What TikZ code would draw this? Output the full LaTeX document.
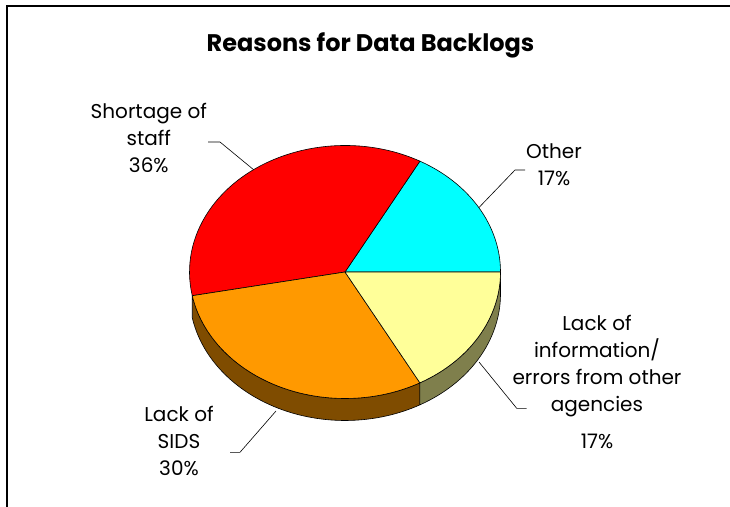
\documentclass[tikz,border=0pt]{standalone}
\usepackage{fontspec}
\setmainfont{Poppins}
\usetikzlibrary{positioning}
\definecolor{CyanB}{HTML}{00FFFF}
\definecolor{RedB}{HTML}{FF0000}
\definecolor{OrangeA}{HTML}{7F4C00}
\definecolor{OrangeB}{HTML}{FF9900}
\definecolor{YellowA}{HTML}{7F7F4C}
\definecolor{YellowB}{HTML}{FFFF99}
\tikzset{
  rad/.style={x radius=155.5, y radius=126.5},
  piece/.style={draw=black, line width=0.6pt, line join=round},
  lbl/.style={align=center, inner sep=0pt, font=\fontsize{20}{27}\selectfont},
  ttl/.style={inner sep=0pt, anchor=base, font=\fontsize{24}{28}\selectfont\bfseries},
  leader/.style={draw=black, line width=0.6pt}
}
\begin{document}
\begin{tikzpicture}[x=1pt, y=1pt]
  \useasboundingbox (0,0) rectangle (730,506);
  \draw[line width=2pt] (6.5,-2) -- (6.5,500) -- (732,500);

  \coordinate (ctr) at (345,234);

  % sides
  \draw[piece, fill=OrangeA] (ctr) ++({155.5*cos(190.8)},{126.5*sin(190.8)})
    arc[rad, start angle=190.8, end angle=298.8] -- ++(0,-22)
    arc[rad, start angle=298.8, end angle=190.8] -- cycle;
  \draw[piece, fill=YellowA] (ctr) ++({155.5*cos(298.8)},{126.5*sin(298.8)})
    arc[rad, start angle=298.8, end angle=360] -- ++(0,-22)
    arc[rad, start angle=360, end angle=298.8] -- cycle;

  % top
  \draw[piece, fill=CyanB] (ctr) -- ++({155.5*cos(0)},{126.5*sin(0)})
    arc[rad, start angle=0, end angle=61.2] -- cycle;
  \draw[piece, fill=RedB] (ctr) -- ++({155.5*cos(61.2)},{126.5*sin(61.2)})
    arc[rad, start angle=61.2, end angle=190.8] -- cycle;
  \draw[piece, fill=OrangeB] (ctr) -- ++({155.5*cos(190.8)},{126.5*sin(190.8)})
    arc[rad, start angle=190.8, end angle=298.8] -- cycle;
  \draw[piece, fill=YellowB] (ctr) -- ++({155.5*cos(298.8)},{126.5*sin(298.8)})
    arc[rad, start angle=298.8, end angle=360] -- cycle;

  \node[ttl] (title) at (370.5,454) {Reasons for Data Backlogs};

  \node[lbl] (lblStaff) at (148.8,368) {Shortage of\\staff\\36\%};
  \node[lbl] (lblOther) at (554,341) {Other\\17\%};
  \node[lbl] (lblInfo) at (597,124.3) {Lack of\\information/\\errors from other\\agencies\\[10pt]17\%};
  \node[lbl] (lblSids) at (179,65.5) {Lack of\\SIDS\\30\%};

  \coordinate (pRed) at (253.6,336.3);
  \coordinate (kRed) at (220,364);
  \coordinate (eRed) at (208,364);
  \coordinate (pCyan) at (478.9,298.4);
  \coordinate (kCyan) at (515,336);
  \coordinate (eCyan) at (525,336);
  \coordinate (pYel) at (479,144);
  \coordinate (kYel) at (516.7,97.7);
  \coordinate (eYel) at (526.7,97.7);
  \coordinate (pOra) at (276,95);
  \coordinate (kOra) at (240,53.7);
  \coordinate (eOra) at (230,53.7);

  \draw[leader] (pRed) -- (kRed) -- (eRed);
  \draw[leader] (pCyan) -- (kCyan) -- (eCyan);
  \draw[leader] (pYel) -- (kYel) -- (eYel);
  \draw[leader] (pOra) -- (kOra) -- (eOra);
\end{tikzpicture}
\end{document}
